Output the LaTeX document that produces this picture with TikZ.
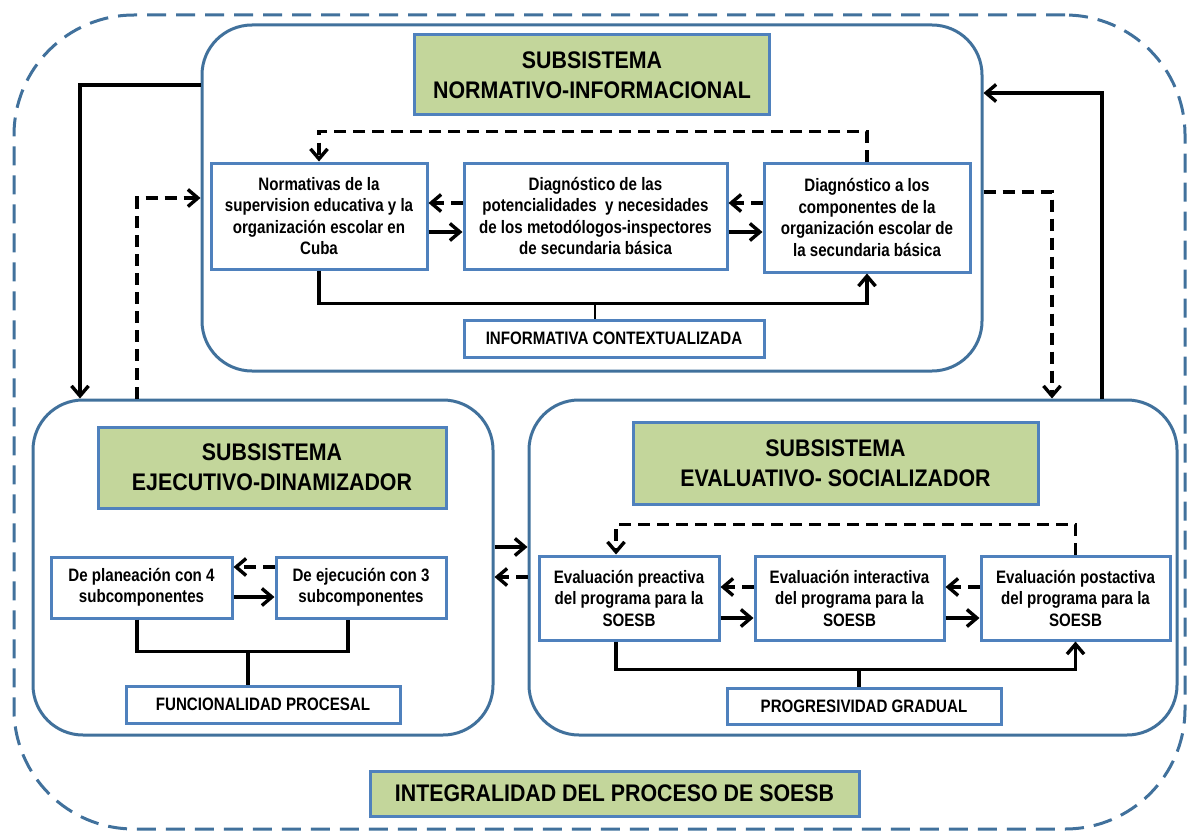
\documentclass[tikz,border=0pt]{standalone}
\usepackage{fontspec}
\setmainfont{Liberation Sans}
\newfontfamily\tfont[FakeStretch=0.89]{Liberation Sans}
\newfontfamily\sfont[FakeStretch=0.84]{Liberation Sans}
\usetikzlibrary{arrows.meta}
\definecolor{subblue}{HTML}{41719C}
\definecolor{boxblue}{HTML}{4F81BD}
\definecolor{titgreen}{HTML}{C3D69B}
\tikzset{
  outerframe/.style={draw=subblue, line width=3pt, dash pattern=on 19pt off 10pt, rounded corners=120pt, inner sep=0pt},
  subsys/.style={draw=subblue, line width=3pt, rounded corners=50pt, inner sep=0pt},
  titlebox/.style={draw=boxblue, fill=titgreen, line width=3pt, inner sep=0pt, align=center, font=\tfont\bfseries\fontsize{24}{30}\selectfont},
  tbox/.style={draw=boxblue, fill=white, line width=3pt, inner sep=0pt, align=center, font=\sfont\bfseries\fontsize{18}{21.5}\selectfont},
  conn/.style={line width=3.4pt, -{Straight Barb[length=10pt,width=17pt]}},
  dconn/.style={conn, dash pattern=on 12pt off 7pt},
  plain/.style={line width=3.4pt},
  thinline/.style={line width=1.3pt},
}
\begin{document}
\begin{tikzpicture}[x=1pt,y=-1pt]
\useasboundingbox (0,0) rectangle (1188,832);
% outer frame
\node[outerframe, minimum width=1171pt, minimum height=814pt] (O) at (599.5,422) {};
% subsystems
\node[subsys, minimum width=780pt, minimum height=346pt] (T) at (592,198) {};
\node[subsys, minimum width=460pt, minimum height=335pt] (L) at (263,567.5) {};
\node[subsys, minimum width=648pt, minimum height=335pt] (R) at (853,567.5) {};
% top subsystem contents
\node[titlebox, minimum width=355pt, minimum height=80pt] (TT) at (592,75) {SUBSISTEMA\\NORMATIVO-INFORMACIONAL};
\node[tbox, minimum width=216pt, minimum height=106pt] (b1) at (319,216) {Normativas de la\\supervision educativa y la\\organización escolar en\\Cuba};
\node[tbox, minimum width=263pt, minimum height=106pt] (b2) at (595.5,216) {Diagnóstico de las\\potencialidades\ \ y necesidades\\de los metodólogos-inspectores\\de secundaria básica};
\node[tbox, minimum width=206pt, minimum height=109pt] (b3) at (867,217.5) {Diagnóstico a los\\componentes de la\\organización escolar de\\la secundaria básica};
\node[tbox, minimum width=300pt, minimum height=37pt] (info) at (614,338.5) {INFORMATIVA CONTEXTUALIZADA};
% left subsystem contents
\node[titlebox, minimum width=348pt, minimum height=81pt] (LT) at (272,467.5) {SUBSISTEMA\\EJECUTIVO-DINAMIZADOR};
\node[tbox, minimum width=181pt, minimum height=61pt] (p1) at (141.5,587.5) {De planeación con 4\\subcomponentes};
\node[tbox, minimum width=170pt, minimum height=61pt] (p2) at (361,587.5) {De ejecución con 3\\subcomponentes};
\node[tbox, minimum width=274pt, minimum height=37pt] (func) at (263,704.5) {FUNCIONALIDAD PROCESAL};
% right subsystem contents
\node[titlebox, minimum width=405pt, minimum height=82pt] (RT) at (835.5,463) {SUBSISTEMA\\EVALUATIVO- SOCIALIZADOR};
\node[tbox, minimum width=180pt, minimum height=84pt] (e1) at (629,598) {Evaluación preactiva\\del programa para la\\SOESB};
\node[tbox, minimum width=189pt, minimum height=84pt] (e2) at (849.5,598) {Evaluación interactiva\\del programa para la\\SOESB};
\node[tbox, minimum width=189pt, minimum height=84pt] (e3) at (1075.5,598) {Evaluación postactiva\\del programa para la\\SOESB};
\node[tbox, minimum width=274pt, minimum height=36pt] (prog) at (864,706) {PROGRESIVIDAD GRADUAL};
% bottom label
\node[titlebox, minimum width=489pt, minimum height=45pt] (INT) at (614.5,793.5) {INTEGRALIDAD DEL PROCESO DE SOESB};
% top connectors
\draw[dconn] (b3.north) -- ++(0,-30) -| (b1.north);
\draw[dconn] (b2.west |- 0,203) -- (b1.east |- 0,203);
\draw[dconn] (b3.west |- 0,203) -- (b2.east |- 0,203);
\draw[conn] (b1.east |- 0,232) -- (b2.west |- 0,232);
\draw[conn] (b2.east |- 0,232) -- (b3.west |- 0,232);
\draw[conn] (b1.south) -- ++(0,33) -| (b3.south);
\coordinate (TJ) at (595,302);
\draw[thinline] (TJ) -- (info.north -| TJ);
% left connectors
\draw[dconn] (p2.west |- 0,567) -- (p1.east |- 0,567);
\draw[conn] (p1.east |- 0,597) -- (p2.west |- 0,597);
\draw[plain] (p1.south -| 137,0) -- ++(0,32) -| (p2.south -| 348,0);
\coordinate (LJ) at (248,650);
\draw[plain] (LJ) -- (func.north -| LJ);
% right connectors
\draw[dconn] (e3.north) -- ++(0,-30) -| (e1.north -| 616,0);
\draw[dconn] (e2.west |- 0,587) -- (e1.east |- 0,587);
\draw[dconn] (e3.west |- 0,587) -- (e2.east |- 0,587);
\draw[conn] (e1.east |- 0,618) -- (e2.west |- 0,618);
\draw[conn] (e2.east |- 0,618) -- (e3.west |- 0,618);
\draw[conn] (e1.south -| 616,0) -- ++(0,28) -| (e3.south);
\coordinate (RJ) at (859,668);
\draw[plain] (RJ) -- (prog.north -| RJ);
% between subsystems
\draw[conn] (L.east |- 0,547) -- (R.west |- 0,547);
\draw[dconn] (R.west |- 0,577) -- (L.east |- 0,577);
% outer connectors
\draw[conn] (T.west |- 0,85) -| (L.north -| 80,0);
\draw[dconn] (L.north -| 137,0) |- (T.west);
\draw[conn] (R.north -| 1102,0) |- (T.east |- 0,93);
\draw[dconn] (T.east |- 0,192) -| (R.north -| 1052,0);
\end{tikzpicture}
\end{document}
